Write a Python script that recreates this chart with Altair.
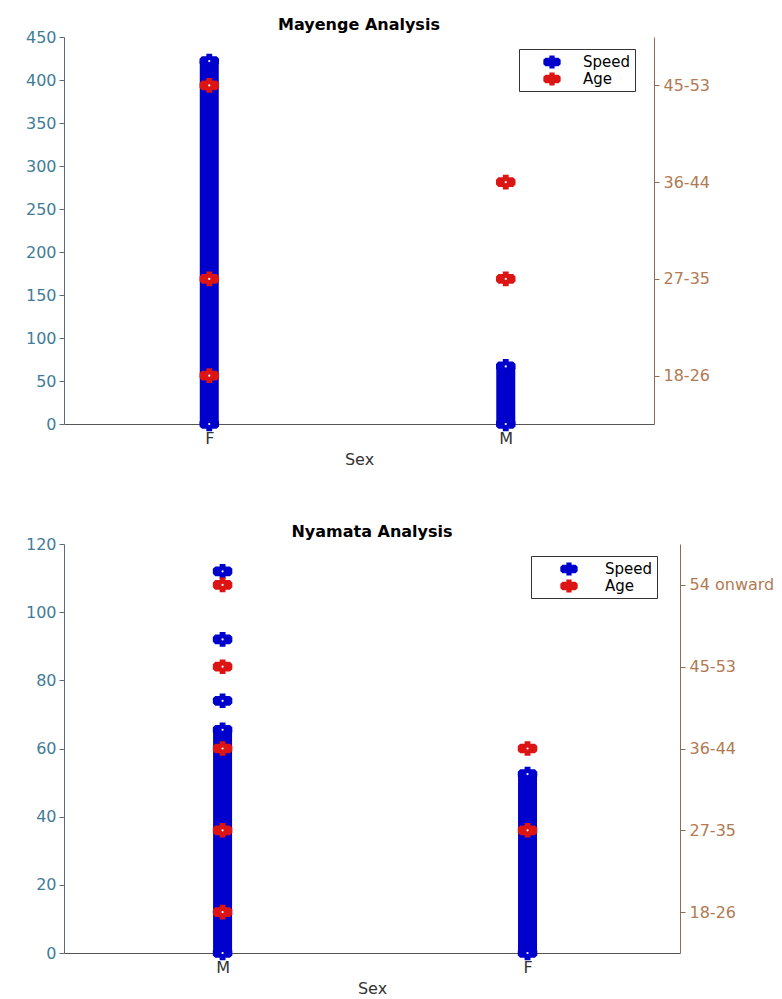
import altair as alt
import pandas as pd

# ---------------- data ----------------
SERIES = ["Speed", "Age"]

# Mayenge
may_sex = ["F", "M"]
may_speed_lo = [0, 0]
may_speed_hi = [422, 67]
may_speed_extra_sex = []
may_speed_extra = []
may_age_sex = ["F", "F", "F", "M", "M"]
may_age = ["18-26", "27-35", "45-53", "27-35", "36-44"]
may_age_cats = ["18-26", "27-35", "36-44", "45-53"]
may_left_ticks = [0, 50, 100, 150, 200, 250, 300, 350, 400, 450]

# Nyamata
nya_sex = ["M", "F"]
nya_speed_lo = [0, 0]
nya_speed_hi = [65.5, 52.5]
nya_speed_extra_sex = ["M", "M", "M"]
nya_speed_extra = [74, 92, 112]
nya_age_sex = ["M", "M", "M", "M", "M", "F", "F"]
nya_age = ["18-26", "27-35", "36-44", "45-53", "54 onward", "27-35", "36-44"]
nya_age_cats = ["18-26", "27-35", "36-44", "45-53", "54 onward"]
nya_left_ticks = [0, 20, 40, 60, 80, 100, 120]

BLUE = "#0000cc"
RED = "#dd1414"
LEFT_LBL = "#3f7d97"
LEFT_LINE = "#5a6c78"
RIGHT_LBL = "#b27a52"
RIGHT_LINE = "#8f6c52"
SHAPE = ("M-1,-0.25 L-0.75,-0.5 L-0.3,-0.5 L-0.3,-0.75 L0.3,-0.75 L0.3,-0.5 "
         "L0.75,-0.5 L1,-0.25 L1,0.25 L0.75,0.5 L0.3,0.5 L0.3,0.75 L-0.3,0.75 "
         "L-0.3,0.5 L-0.75,0.5 L-1,0.25 Z")
FS = 16


def panel(title, sexes, lo, hi, ex_sex, ex_val, age_sex, age_vals, age_cats,
          left_ticks, xdom, width, height, legx, symoff, laboff):
    pos = {s: i + 1 for i, s in enumerate(sexes)}
    rng = pd.DataFrame({"pos": [pos[s] for s in sexes], "lo": lo, "hi": hi})
    sp = pd.DataFrame({
        "pos": [pos[s] for s in sexes] * 2 + [pos[s] for s in ex_sex],
        "v": list(lo) + list(hi) + list(ex_val),
    })
    sp["series"] = "Speed"
    ag = pd.DataFrame({
        "pos": [pos[s] for s in age_sex],
        "code": [age_cats.index(a) + 1 for a in age_vals],
    })
    ag["series"] = "Age"

    xlab = "[''," + ",".join("'%s'" % s for s in sexes) + "][datum.value]"
    x_axis = alt.Axis(values=[1, 2], labelExpr=xlab, title="Sex", grid=False,
                      labelFontSize=FS, titleFontSize=FS, titleFontWeight="normal",
                      labelColor="#333", titleColor="#333", domainColor="#555",
                      tickColor="#555", tickSize=3, labelPadding=3, titlePadding=5)
    xs = alt.Scale(domain=xdom, nice=False, zero=False)
    X = alt.X("pos:Q", scale=xs, axis=x_axis)

    left_axis = alt.Axis(values=left_ticks, title=None, grid=False,
                         labelFontSize=FS, labelColor=LEFT_LBL,
                         domainColor=LEFT_LINE, tickColor=LEFT_LINE,
                         tickSize=5, labelPadding=3)
    ls = alt.Scale(domain=[left_ticks[0], left_ticks[-1]], nice=False, zero=False)

    alab = "[''," + ",".join("'%s'" % c for c in age_cats) + "][datum.value]"
    right_axis = alt.Axis(orient="right", values=list(range(1, len(age_cats) + 1)),
                          labelExpr=alab, title=None, grid=False,
                          labelFontSize=FS, labelColor=RIGHT_LBL,
                          domainColor=RIGHT_LINE, tickColor=RIGHT_LINE,
                          tickSize=5, labelPadding=4)
    rs = alt.Scale(domain=[0.5, len(age_cats) + 0.5], nice=False, zero=False)

    color = alt.Color("series:N", scale=alt.Scale(domain=SERIES, range=[BLUE, RED]),
                      legend=alt.Legend(title=None, orient="none", legendX=legx,
                                        legendY=12, strokeColor="#333",
                                        fillColor="white", padding=4,
                                        symbolType=SHAPE, symbolSize=300,
                                        symbolStrokeWidth=0,
                                        labelFontSize=15, labelColor="black",
                                        rowPadding=0, symbolOffset=symoff,
                                        labelOffset=laboff))

    col = alt.Chart(rng).mark_rule(color=BLUE, strokeWidth=19, strokeCap="butt").encode(
        x=X, y=alt.Y("lo:Q", scale=ls, axis=left_axis), y2="hi:Q")
    spd = alt.Chart(sp).mark_point(filled=True, size=380, shape=SHAPE, opacity=1).encode(
        x=X, y=alt.Y("v:Q", scale=ls, axis=left_axis), color=color)
    spd_dot = alt.Chart(sp).mark_point(filled=True, size=5, shape="circle",
                                       color="white", opacity=1).encode(
        x=X, y=alt.Y("v:Q", scale=ls, axis=left_axis))
    left = alt.layer(col, spd, spd_dot)

    agp = alt.Chart(ag).mark_point(filled=True, size=380, shape=SHAPE, opacity=1).encode(
        x=X, y=alt.Y("code:Q", scale=rs, axis=right_axis), color=color)
    ag_dot = alt.Chart(ag).mark_point(filled=True, size=5, shape="circle",
                                      color="white", opacity=1).encode(
        x=X, y=alt.Y("code:Q", scale=rs, axis=right_axis))
    right = alt.layer(agp, ag_dot)

    return alt.layer(left, right).resolve_scale(y="independent").properties(
        width=width, height=height,
        title=alt.TitleParams(title, fontSize=FS, fontWeight="bold", color="black",
                              anchor="middle", offset=-4))


top = panel("Mayenge Analysis", may_sex, may_speed_lo, may_speed_hi,
            may_speed_extra_sex, may_speed_extra, may_age_sex, may_age,
            may_age_cats, may_left_ticks, [0.51, 2.5], 590, 387, 455, 20, 22)
bottom = panel("Nyamata Analysis", nya_sex, nya_speed_lo, nya_speed_hi,
               nya_speed_extra_sex, nya_speed_extra, nya_age_sex, nya_age,
               nya_age_cats, nya_left_ticks, [0.48, 2.5], 616, 409, 467, 25, 27)

chart = alt.vconcat(top, bottom, spacing=57).resolve_scale(
    color="independent").properties(
    padding={"left": 17, "top": 9, "right": 0, "bottom": 0}
).configure(font="DejaVu Sans").configure_view(stroke=None)

chart.save("out.html", embed_options={"renderer": "svg", "actions": False})
